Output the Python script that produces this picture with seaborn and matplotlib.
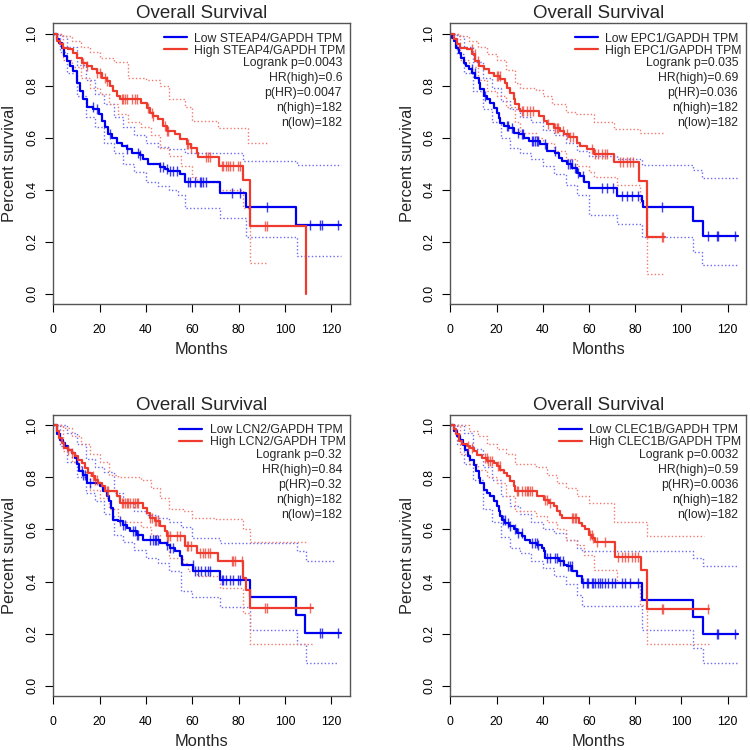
import numpy as np
import matplotlib
matplotlib.use('Agg')
import matplotlib.pyplot as plt
import seaborn as sns
from matplotlib.lines import Line2D

# ---- data: (month, survival) step points ----
genes = ['STEAP4', 'EPC1', 'LCN2', 'CLEC1B']
logrank_p = ['0.0043', '0.035', '0.32', '0.0032']
hr_high = ['0.6', '0.69', '0.84', '0.59']
p_hr = ['0.0047', '0.036', '0.32', '0.0036']
n_high = [182, 182, 182, 182]
n_low = [182, 182, 182, 182]

# panel 1 (STEAP4)
p1_low = [(0, 1), (1.5, .98), (2.6, .965), (3.6, .946), (4.6, .914), (5.8, .895), (7.2, .876), (8.6, .857),
          (10, .81), (11.5, .78), (13, .75), (14.4, .72), (17.3, .71), (19.8, .69), (20.8, .665), (22.3, .64),
          (23.7, .613), (25.2, .60), (27.3, .58), (29.5, .57), (31.6, .556), (33.8, .543), (37.4, .534),
          (38.8, .517), (41, .5), (46, .488), (48, .479), (49.6, .472), (54.6, .46), (56.8, .428),
          (71.8, .388), (83, .332), (104.7, .265), (124.3, .265)]
p1_high = [(0, 1), (1.7, .97), (2.9, .96), (4.3, .946), (6.5, .94), (8.6, .927), (10, .908), (12.2, .889),
           (14.4, .876), (16.5, .863), (18.7, .85), (20.8, .83), (23, .818), (24.4, .80), (25.9, .78),
           (27.3, .76), (28.7, .748), (38, .735), (40.2, .716), (41.7, .697), (43, .684), (45.3, .671),
           (47.4, .645), (48.9, .626), (52.5, .613), (54.6, .594), (57.5, .575), (59.6, .562), (61.8, .543),
           (62.5, .527), (71.5, .493), (82, .439), (85, .26), (109, 0.0)]
p1_low_up = [(0, 1), (3, .99), (6, .95), (10, .88), (14, .82), (18, .77), (22, .73), (26, .68), (30, .64),
             (35, .61), (40, .58), (45, .565), (50, .555), (57, .543), (82, .51), (105, .494), (124.3, .494)]
p1_low_lo = [(0, 1), (3, .93), (6, .85), (10, .76), (14, .68), (18, .64), (22, .58), (26, .54), (30, .50),
             (35, .47), (40, .43), (45, .415), (50, .40), (54, .38), (57, .33), (72, .29), (83, .219),
             (105, .145), (124.3, .145)]
p1_high_up = [(0, 1), (4, .99), (8, .97), (12, .95), (16, .93), (20, .906), (26, .89), (32, .83), (40, .82),
              (46, .80), (50, .75), (57, .72), (60, .663), (71, .638), (84, .58), (92, .58)]
p1_high_lo = [(0, 1), (4, .90), (8, .87), (12, .83), (16, .79), (20, .77), (24, .73), (28, .69), (32, .66),
              (38, .64), (42, .61), (46, .56), (50, .53), (55, .49), (60, .45), (62, .43), (71.5, .40),
              (82, .33), (85, .12), (92, .12)]
p1_low_cens = [17, 18.7, 24.4, 31.6, 36.6, 37.4, 46, 47.4, 48.9, 50.3, 51.7, 53.2, 58.2, 58.9, 61, 63.2,
               63.9, 64.7, 66, 76.9, 80.5, 92, 110.6, 115, 115.7, 122.8]
p1_high_cens = [12.9, 14.4, 18.7, 20.1, 22.3, 23, 29.5, 30.2, 30.9, 31.6, 33.8, 35.2, 35.9, 41, 42.4, 43.1,
                48.1, 48.9, 49.6, 57.5, 58.2, 59.6, 66, 66.8, 67.5, 72.6, 73.3, 74.7, 75.4, 76.2, 77.6,
                79.7, 80.5, 91.2, 92]

# panel 2 (EPC1)
p2_low = [(0, 1), (0.8, .985), (1.5, .972), (2.6, .946), (3.6, .927), (4.6, .908), (5.8, .889), (6.9, .876),
          (8, .863), (9.4, .85), (10.8, .83), (12.3, .81), (13, .786), (14.4, .76), (15.9, .748), (17.3, .735),
          (18.8, .716), (20.2, .697), (20.9, .677), (21.7, .658), (23.1, .645), (25.3, .639), (27.4, .62),
          (29.6, .613), (31.8, .60), (33.9, .588), (39, .575), (41.9, .549), (45.5, .543), (47, .524),
          (48.4, .511), (50.5, .498), (52.7, .485), (54.9, .466), (56.3, .453), (57.7, .428), (59.9, .408),
          (72, .375), (82.8, .355), (83.6, .334), (105.2, .279), (109.2, .223), (124.4, .223)]
p2_high = [(0, 1), (1.5, .98), (2.9, .96), (4.3, .946), (7.2, .94), (9.4, .92), (10.8, .895), (12.3, .876),
           (14.4, .863), (16.6, .85), (18.8, .837), (21.7, .825), (23.8, .812), (24.5, .79), (26, .773),
           (27.4, .748), (28.2, .729), (29.6, .709), (30.3, .703), (38.3, .684), (40.4, .665), (41.9, .652),
           (44.7, .639), (47.6, .626), (49, .613), (51.2, .603), (54.8, .581), (56.3, .568), (59.2, .556),
           (62, .539), (71, .506), (81.8, .433), (85, .219), (93, .219)]
p2_low_up = [(0, 1), (3, .99), (6, .95), (10, .89), (14, .83), (18, .79), (22, .74), (26, .71), (30, .68),
             (35, .66), (40, .63), (45, .61), (50, .58), (55, .55), (60, .53), (72, .52), (83, .497),
             (105, .475), (109, .445), (124.4, .445)]
p2_low_lo = [(0, 1), (3, .92), (6, .85), (10, .78), (14, .71), (18, .66), (22, .60), (26, .56), (30, .54),
             (35, .52), (40, .49), (45, .46), (50, .42), (55, .38), (60, .305), (72, .27), (83, .22),
             (105, .16), (109, .11), (124.4, .11)]
p2_high_up = [(0, 1), (4, .99), (8, .97), (12, .95), (16, .92), (20, .90), (24, .86), (28, .81), (30, .79),
              (37, .785), (40, .76), (44, .73), (50, .70), (54, .69), (62, .66), (71, .635), (82, .62), (92, .62)]
p2_high_lo = [(0, 1), (4, .90), (8, .87), (12, .82), (16, .78), (20, .76), (24, .72), (28, .66), (30, .62),
              (37, .60), (40, .58), (45, .55), (50, .52), (55, .49), (60, .47), (62, .45), (72, .42),
              (82, .35), (85, .075), (92, .075)]
p2_low_cens = [9.2, 10.7, 15, 24.4, 25.1, 26.6, 29.4, 30.9, 31.6, 35.2, 36, 36.7, 37.4, 38.1, 41, 45.3, 51,
               51.8, 52.5, 54, 55.4, 57.6, 65.5, 67.7, 70.6, 74.2, 76.3, 78.5, 81.4, 91.8, 111.7, 115.3,
               116, 123.2]
p2_high_cens = [9.2, 10.7, 12.1, 20, 20.8, 21.5, 30.9, 31.6, 33, 34.5, 35.9, 42.4, 45.3, 46, 46.8, 48.9,
                50.4, 51.8, 53.2, 61.2, 62.6, 64, 65.5, 67, 67.7, 73.4, 74.8, 76.3, 77.7, 79.2, 91.5, 92.2]

# panel 3 (LCN2)
p3_low = [(0, 1), (1.7, .966), (2.9, .945), (4, .932), (5, .92), (6.5, .907), (7.9, .894), (9.4, .875),
          (10, .85), (11.2, .823), (12.7, .81), (14.4, .778), (20.1, .766), (21.6, .746), (23, .727),
          (24.2, .708), (24.7, .682), (25.6, .657), (25.9, .638), (28, .631), (30.2, .618), (31.6, .606),
          (33, .593), (35.9, .58), (38.8, .561), (46, .548), (48.9, .542), (50.3, .529), (52.5, .516),
          (54.6, .497), (55.3, .462), (60.4, .439), (71.8, .405), (84.8, .339), (104.8, .273),
          (108.7, .202), (124.3, .202)]
p3_high = [(0, 1), (1.5, .978), (2.6, .951), (3.6, .932), (4.6, .913), (6.5, .907), (7.9, .894), (9.4, .881),
           (10.8, .868), (12.2, .855), (13.7, .836), (15.1, .817), (16.5, .804), (18, .791), (19.4, .778),
           (20.8, .766), (22.3, .746), (27.3, .727), (28.7, .702), (38.8, .682), (40.2, .663), (41.7, .644),
           (43.8, .631), (46, .612), (48.1, .593), (48.9, .574), (56.8, .535), (61.8, .51), (71.1, .478),
           (82, .414), (83.3, .369), (84.8, .297), (112, .297)]
p3_low_up = [(0, 1), (3, 1.0), (6, .97), (10, .93), (14, .87), (18, .84), (22, .82), (26, .74), (30, .70),
             (35, .67), (40, .655), (45, .645), (50, .63), (55, .61), (60, .567), (72, .548), (105, .516),
             (109, .478), (121.5, .478)]
p3_low_lo = [(0, 1), (3, .92), (6, .86), (10, .80), (14, .74), (18, .71), (22, .66), (26, .58), (30, .55),
             (35, .52), (40, .49), (45, .47), (50, .44), (55, .362), (60, .341), (72, .302), (85, .213),
             (105, .16), (109, .087), (123, .087)]
p3_high_up = [(0, 1), (4, .99), (8, .96), (12, .93), (16, .89), (20, .86), (24, .81), (28, .80), (38, .79),
              (42, .76), (46, .72), (50, .68), (56, .67), (60, .645), (70, .64), (82, .60), (85, .552),
              (110, .552)]
p3_high_lo = [(0, 1), (4, .90), (8, .86), (12, .82), (16, .75), (20, .72), (24, .68), (28, .63), (38, .61),
              (42, .58), (46, .55), (50, .49), (56, .47), (58, .44), (62, .42), (72, .375), (82, .28),
              (85, .158), (112, .158)]
p3_low_cens = [12.2, 12.9, 13.6, 15.8, 28.7, 30.2, 30.9, 34.5, 35.2, 35.9, 36.6, 41.7, 43, 44, 44.5, 45.3,
               48.9, 50.3, 51.7, 60.3, 61, 62.5, 63.9, 65.4, 66.8, 67.5, 72.6, 73.3, 74.7, 76.1, 77.6, 79.7,
               80.5, 115, 115.7, 122.8]
p3_high_cens = [6.5, 7.9, 17.2, 18, 18.7, 23, 23.7, 29.5, 30.2, 30.9, 31.6, 32.3, 33, 34.5, 35.2, 35.9,
                36.6, 41.7, 42.4, 43.8, 44.5, 45.3, 48.9, 49.6, 50.3, 53.2, 54.6, 57.5, 58.2, 59.6, 63.2,
                64.7, 65.4, 66.8, 67.5, 76.9, 77.6, 78.3, 81.2, 91.2, 92, 110.6]

# panel 4 (CLEC1B)
p4_low = [(0, 1), (1.7, .978), (2.9, .958), (4.3, .945), (5.5, .926), (6.5, .907), (7.5, .881), (8.7, .868),
          (10.1, .849), (11.3, .823), (12.3, .798), (13, .778), (14.4, .753), (15.9, .74), (17.3, .727),
          (18.8, .708), (20.2, .689), (20.9, .67), (21.7, .65), (22.4, .638), (23.8, .625), (25.3, .612),
          (27.4, .60), (28.9, .586), (31, .574), (32.5, .561), (34.6, .548), (37.5, .542), (39.7, .529),
          (40.4, .516), (41.1, .49), (46.9, .478), (49.1, .465), (50.5, .458), (52.7, .439), (54.9, .42),
          (57, .395), (82.8, .328), (105.2, .264), (109.2, .198), (124.4, .198)]
p4_high = [(0, 1), (1.5, .985), (2.6, .966), (3.6, .94), (5.1, .927), (7.2, .92), (8.7, .913), (10.1, .90),
           (11.6, .887), (13.7, .875), (15.9, .862), (18.8, .855), (20.2, .842), (21.7, .83), (23.1, .817),
           (24.5, .804), (26, .785), (27.4, .766), (28.2, .746), (37.5, .727), (40.4, .714), (42.6, .702),
           (44.8, .689), (46.2, .67), (47.6, .657), (48.4, .644), (55.6, .625), (57, .612), (58.5, .60),
           (59.9, .58), (61.3, .567), (62.8, .552), (71.3, .494), (82.4, .446), (85, .296), (112, .296)]
p4_low_up = [(0, 1), (3, 1.0), (6, .97), (10, .91), (14, .84), (18, .79), (22, .73), (26, .69), (30, .66),
             (35, .63), (40, .60), (45, .585), (50, .56), (55, .53), (57, .516), (105.2, .49), (109.2, .461),
             (124.4, .461)]
p4_low_lo = [(0, 1), (3, .93), (6, .85), (10, .79), (14, .68), (18, .63), (22, .57), (26, .53), (30, .51),
             (35, .48), (40, .45), (45, .42), (50, .39), (55, .35), (57, .305), (82.8, .215), (105.2, .145),
             (109.2, .087), (124.4, .087)]
p4_high_up = [(0, 1), (4, 1.0), (8, .98), (12, .96), (16, .93), (20, .91), (24, .89), (28, .85), (37, .84),
              (42, .81), (46, .78), (50, .76), (55, .73), (60, .70), (71, .63), (85, .574), (110, .574)]
p4_high_lo = [(0, 1), (4, .89), (8, .85), (12, .83), (16, .80), (20, .78), (24, .73), (28, .67), (37, .65),
              (42, .63), (46, .60), (50, .56), (55, .54), (58, .50), (62, .445), (72, .40), (82, .31),
              (85, .158), (112, .158)]
p4_low_cens = [22.9, 23.7, 25.1, 25.8, 28, 29.4, 30.9, 35.2, 36.7, 37.4, 38.1, 41.7, 43.1, 45.3, 46, 47.5,
               48.9, 51.1, 51.8, 52.5, 57.6, 59, 59.8, 61.2, 61.9, 62.6, 64.1, 64.8, 65.5, 67, 68.4, 69.9,
               71.3, 74.2, 75.6, 77.8, 81.4, 115.3, 116, 123.2]
p4_high_cens = [7.8, 9.2, 15, 15.7, 16.5, 17.2, 17.9, 20.8, 21.5, 28.7, 29.4, 30.9, 32.3, 33, 33.8, 34.5,
                35.2, 41, 41.7, 43.1, 52.5, 53.2, 53.9, 54.6, 60.5, 61.2, 61.9, 63.4, 67, 72.7, 74.2, 75.6,
                77.1, 78.5, 79.9, 81.4, 91.5, 92.2, 111.7]

panels = [
    (p1_low, p1_high, p1_low_up, p1_low_lo, p1_high_up, p1_high_lo, p1_low_cens, p1_high_cens),
    (p2_low, p2_high, p2_low_up, p2_low_lo, p2_high_up, p2_high_lo, p2_low_cens, p2_high_cens),
    (p3_low, p3_high, p3_low_up, p3_low_lo, p3_high_up, p3_high_lo, p3_low_cens, p3_high_cens),
    (p4_low, p4_high, p4_low_up, p4_low_lo, p4_high_up, p4_high_lo, p4_low_cens, p4_high_cens),
]

sns.set_style('white')
plt.rcParams['font.family'] = ['Liberation Sans', 'DejaVu Sans']

BLUE = '#0000F0'
RED = '#EE3B2E'
BLUE_CI = '#6B6BF2'
RED_CI = '#F07A70'


def split(pts):
    return [p[0] for p in pts], [p[1] for p in pts]


def surv_at(pts, times):
    t, s = split(pts)
    idx = np.searchsorted(t, times, side='right') - 1
    return np.array(s)[idx]


fig = plt.figure(figsize=(7.5, 7.5), dpi=100)
positions = [[0.0711, 0.5943, 0.3956, 0.3747], [0.6004, 0.5943, 0.3943, 0.3747],
             [0.0711, 0.0720, 0.3956, 0.3747], [0.6004, 0.0720, 0.3943, 0.3747]]

for i, (pos, data) in enumerate(zip(positions, panels)):
    low, high, low_up, low_lo, high_up, high_lo, low_c, high_c = data
    ax = fig.add_axes(pos)

    # confidence bands (dotted)
    for pts, col in [(low_up, BLUE_CI), (low_lo, BLUE_CI), (high_up, RED_CI), (high_lo, RED_CI)]:
        t, s = split(pts)
        sns.lineplot(x=t, y=s, ax=ax, color=col, lw=1.0, linestyle=(0, (1, 1.6)),
                     drawstyle='steps-post', estimator=None, sort=False)

    # survival curves + censor marks
    for pts, cens, col in [(low, low_c, BLUE), (high, high_c, RED)]:
        t, s = split(pts)
        sns.lineplot(x=t, y=s, ax=ax, color=col, lw=1.6, drawstyle='steps-post',
                     estimator=None, sort=False)
        ax.plot(cens, surv_at(pts, cens), ls='none', marker='|', ms=7, mew=1.0,
                color=col, alpha=0.75)

    ax.set_xlim(0, 128)
    ax.set_ylim(-0.04, 1.04)
    ax.set_xticks(range(0, 121, 20))
    ax.set_yticks([0, 0.2, 0.4, 0.6, 0.8, 1.0])
    ax.set_yticklabels(['0.0', '0.2', '0.4', '0.6', '0.8', '1.0'], rotation=90, va='center')
    ax.tick_params(axis='both', which='both', bottom=True, left=True, direction='out',
                   length=5.8, width=0.8, color='black', labelsize=8.8, labelcolor='black')
    ax.tick_params(axis='x', pad=8.6)
    ax.tick_params(axis='y', pad=4.9)
    for sp in ax.spines.values():
        sp.set_color('#555555')
        sp.set_linewidth(1.0)

    ax.set_title('Overall Survival', fontsize=13.5, pad=3.6)
    ax.set_xlabel('Months', fontsize=11.8)
    ax.set_ylabel('Percent survival', fontsize=11.8)
    ax.xaxis.set_label_coords(0.5, -0.134)
    ax.yaxis.set_label_coords(-0.121, 0.5)

    g = genes[i]
    handles = [Line2D([], [], color=BLUE, lw=1.6), Line2D([], [], color=RED, lw=1.6)]
    ax.legend(handles, [f'Low {g}/GAPDH TPM', f'High {g}/GAPDH TPM'], loc='upper right',
              bbox_to_anchor=(0.985, 0.967), frameon=False, fontsize=8.8, borderpad=0,
              borderaxespad=0, handlelength=1.9, handletextpad=0.6, labelspacing=0.0)

    stats = [f'Logrank p={logrank_p[i]}', f'HR(high)={hr_high[i]}', f'p(HR)={p_hr[i]}',
             f'n(high)={n_high[i]}', f'n(low)={n_low[i]}']
    for k, line in enumerate(stats):
        ax.text(0.973, 0.859 - k * 0.0534, line, transform=ax.transAxes, ha='right', va='center',
                fontsize=8.8)

fig.savefig('out.png', dpi=100)
